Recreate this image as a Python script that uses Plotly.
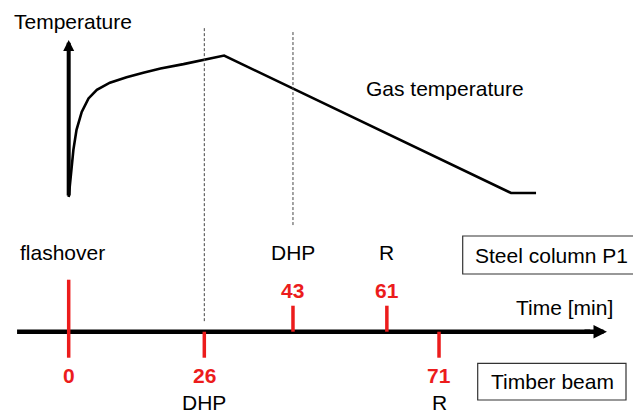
import plotly.graph_objects as go

# ---------------- data ----------------
curve_time = [0, 0.9, 1.5, 2.5, 3.8, 5.4, 7.9, 11.1, 14.3, 17.6, 22.0, 26.5, 29.8, 84.8, 89.6]
curve_temp = [20, 350, 490, 615, 710, 770, 820, 858, 890, 920, 950, 985, 1010, 48, 48]

flashover_time = 0
flashover_label = "flashover"
steel_times = [43, 61]
steel_labels = ["DHP", "R"]
timber_times = [26, 71]
timber_labels = ["DHP", "R"]
dhp_times = [26, 43]

RED = "rgb(236,28,28)"
FONT = "Liberation Sans, Arial, sans-serif"
W, H = 633, 416

fig = go.Figure()

# temperature curve
fig.add_trace(go.Scatter(x=curve_time, y=curve_temp, mode="lines",
                         line=dict(color="black", width=2.6), yaxis="y",
                         hoverinfo="skip", showlegend=False))

# red event ticks
tx, ty = [flashover_time, flashover_time, None], [-1, 2, None]
for t in steel_times:
    tx += [t, t, None]; ty += [0, 1, None]
for t in timber_times:
    tx += [t, t, None]; ty += [0, -1, None]
fig.add_trace(go.Scatter(x=tx, y=ty, mode="lines", line=dict(color=RED, width=3.5),
                         yaxis="y2", hoverinfo="skip", showlegend=False))

shapes = []
# time axis line (below the ticks)
shapes.append(dict(type="line", xref="x", yref="y2", x0=-9.9, x1=100, y0=0, y1=0,
                   line=dict(color="black", width=4.5), layer="below"))
# dashed vertical lines at DHP times
dash_ext = {26: (0.933, 0.228), 43: (0.925, 0.459)}
for t in dhp_times:
    y1, y0 = dash_ext[t]
    shapes.append(dict(type="line", xref="x", yref="paper", x0=t, x1=t, y0=y0, y1=y1,
                       line=dict(color="#444", width=1, dash="3px,2px")))
# label boxes
shapes.append(dict(type="rect", xref="paper", yref="paper", x0=462.7 / W, x1=1.05,
                   y0=1 - 274 / H, y1=1 - 236 / H, line=dict(color="#333", width=1.2)))
shapes.append(dict(type="rect", xref="paper", yref="paper", x0=477.7 / W, x1=626 / W,
                   y0=1 - 400 / H, y1=1 - 363.3 / H, line=dict(color="#333", width=1.2)))

ann = []
def txt(text, x, y, xref="x", yref="y2", size=21, color="black", bold=False, xanchor="center", xshift=0):
    ann.append(dict(text=("<b>%s</b>" % text) if bold else text, x=x, y=y, xref=xref, yref=yref,
                    showarrow=False, xanchor=xanchor, yanchor="middle", xshift=xshift,
                    font=dict(family=FONT, size=size, color=color)))

# arrows
ann.append(dict(x=103.2, y=0, xref="x", yref="y2", ax=-24, ay=0, axref="pixel", ayref="pixel",
                showarrow=True, arrowhead=2, arrowwidth=4.5, arrowsize=0.6, arrowcolor="black", text=""))
ann.append(dict(x=0, y=1 - 40 / H, xref="x", yref="paper", ax=0, ay=157,
                showarrow=True, arrowhead=2, arrowwidth=4, arrowsize=0.55, arrowcolor="black", text=""))

txt("Temperature", 72.5 / W, 1 - 21 / H, xref="paper", yref="paper")
txt("Gas temperature", 445 / W, 1 - 88 / H, xref="paper", yref="paper")
txt("Time [min]", 95.15, 0.95)
txt(flashover_label, flashover_time, 3.03, xshift=-6)
txt(str(flashover_time), flashover_time, -1.67, color=RED, bold=True)
for t, lab in zip(steel_times, steel_labels):
    txt(lab, t, 3.03)
    txt(str(t), t, 1.6, color=RED, bold=True)
for t, lab in zip(timber_times, timber_labels):
    txt(str(t), t, -1.67, color=RED, bold=True)
    txt(lab, t, -2.74)
txt("Steel column P1", 473 / W, 1 - 255 / H, xref="paper", yref="paper", xanchor="left")
txt("Timber beam", 552 / W, 1 - 381.5 / H, xref="paper", yref="paper")

fig.update_layout(
    width=W, height=H, margin=dict(l=0, r=0, t=0, b=0),
    paper_bgcolor="white", plot_bgcolor="white",
    xaxis=dict(range=[-13.17, 108.19], visible=False, fixedrange=True),
    yaxis=dict(range=[-1513, 1399], visible=False, fixedrange=True),
    yaxis2=dict(range=[-3.242, 12.758], visible=False, overlaying="y", fixedrange=True),
    shapes=shapes, annotations=ann, showlegend=False,
)

fig.write_html("out.html", config={"displayModeBar": False},
               post_script="document.body.style.margin='0';document.body.style.overflow='hidden';")
